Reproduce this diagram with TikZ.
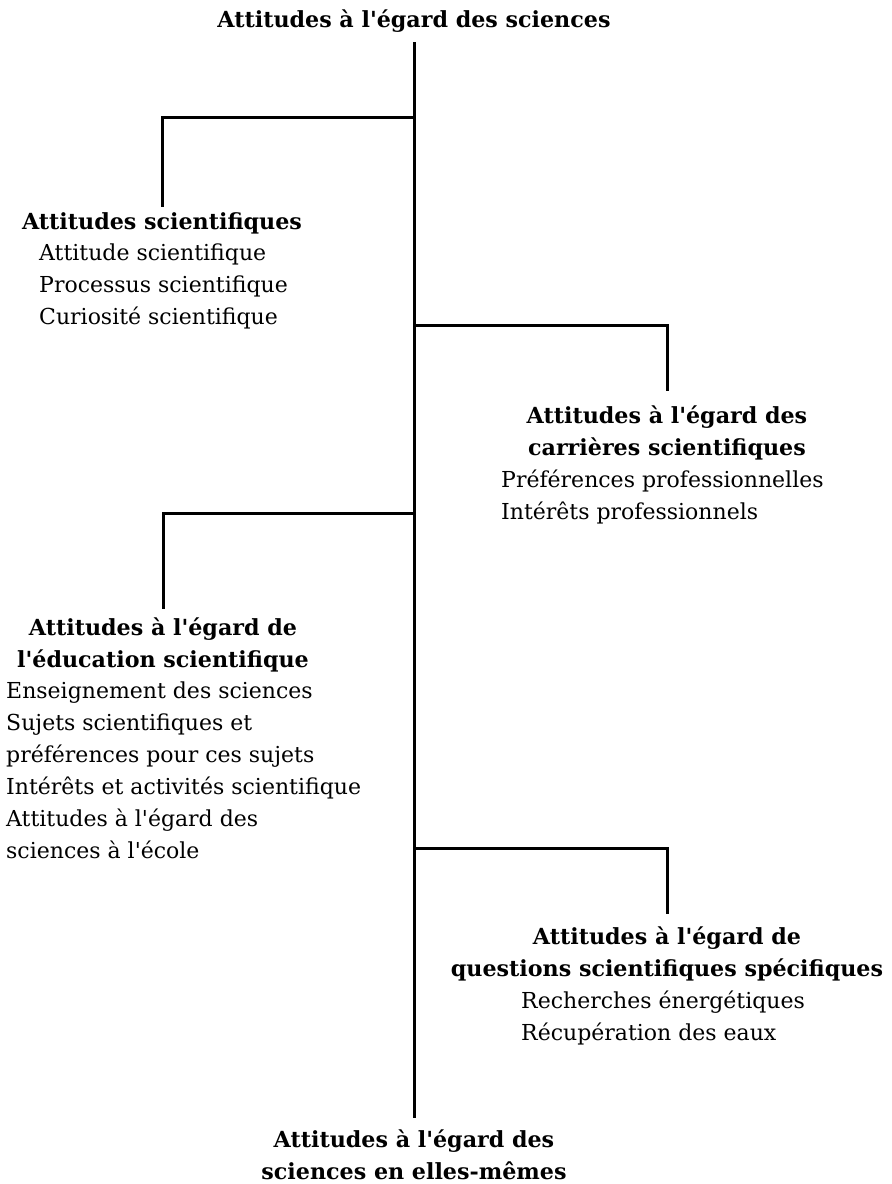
\documentclass[tikz,border=0pt]{standalone}
\usepackage{fontspec}
\setmainfont{DejaVu Serif}
\newcommand{\qs}{\textquotesingle}
\begin{document}
\begin{tikzpicture}[x=1pt,y=-1pt,
  link/.style={line width=3pt},
  head/.style={font=\bfseries\fontsize{22.2}{32}\selectfont, align=center, inner sep=0pt, anchor=north},
  items/.style={font=\fontsize{22}{32}\selectfont, align=left, inner sep=0pt, anchor=north west}]
\useasboundingbox (0,0) rectangle (892,1184);
% headings
\node[head] (title) at (414,4.6) {\strut Attitudes à l\qs égard des sciences};
\node[head] (h1) at (162,206.6) {\strut Attitudes scientifiques};
\node[items] (i1) at (39,237.6) {\strut Attitude scientifique\\Processus scientifique\\Curiosité scientifique};
\node[head] (h2) at (667,400.6) {\strut Attitudes à l\qs égard des\\carrières scientifiques};
\node[items] (i2) at (501,464.6) {\strut Préférences professionnelles\\Intérêts professionnels};
\node[head] (h3) at (163,612.6) {\strut Attitudes à l\qs égard de\\l\qs éducation scientifique};
\node[items] (i3) at (6,675.6) {\strut Enseignement des sciences\\Sujets scientifiques et\\préférences pour ces sujets\\Intérêts et activités scientifique\\Attitudes à l\qs égard des\\sciences à l\qs école};
\node[head] (h4) at (667,921.6) {\strut Attitudes à l\qs égard de\\questions scientifiques spécifiques};
\node[items] (i4) at (521,985.6) {\strut Recherches énergétiques\\Récupération des eaux};
\node[head] (h5) at (414,1124.6) {\strut Attitudes à l\qs égard des\\sciences en elles-mêmes};
% junctions on the main line
\coordinate (j1) at (414,117);
\coordinate (j2) at (414,325);
\coordinate (j3) at (414,513);
\coordinate (j4) at (414,848);
% connectors
\draw[link, shorten <=5.4pt, shorten >=6.6pt] (title.south) -- (h5.north);
\draw[link] (j1) -| (h1.north);
\draw[link, shorten >=10pt] (j2) -| (h2.north);
\draw[link, shorten >=4pt] (j3) -| (h3.north);
\draw[link, shorten >=8pt] (j4) -| (h4.north);
\end{tikzpicture}
\end{document}
